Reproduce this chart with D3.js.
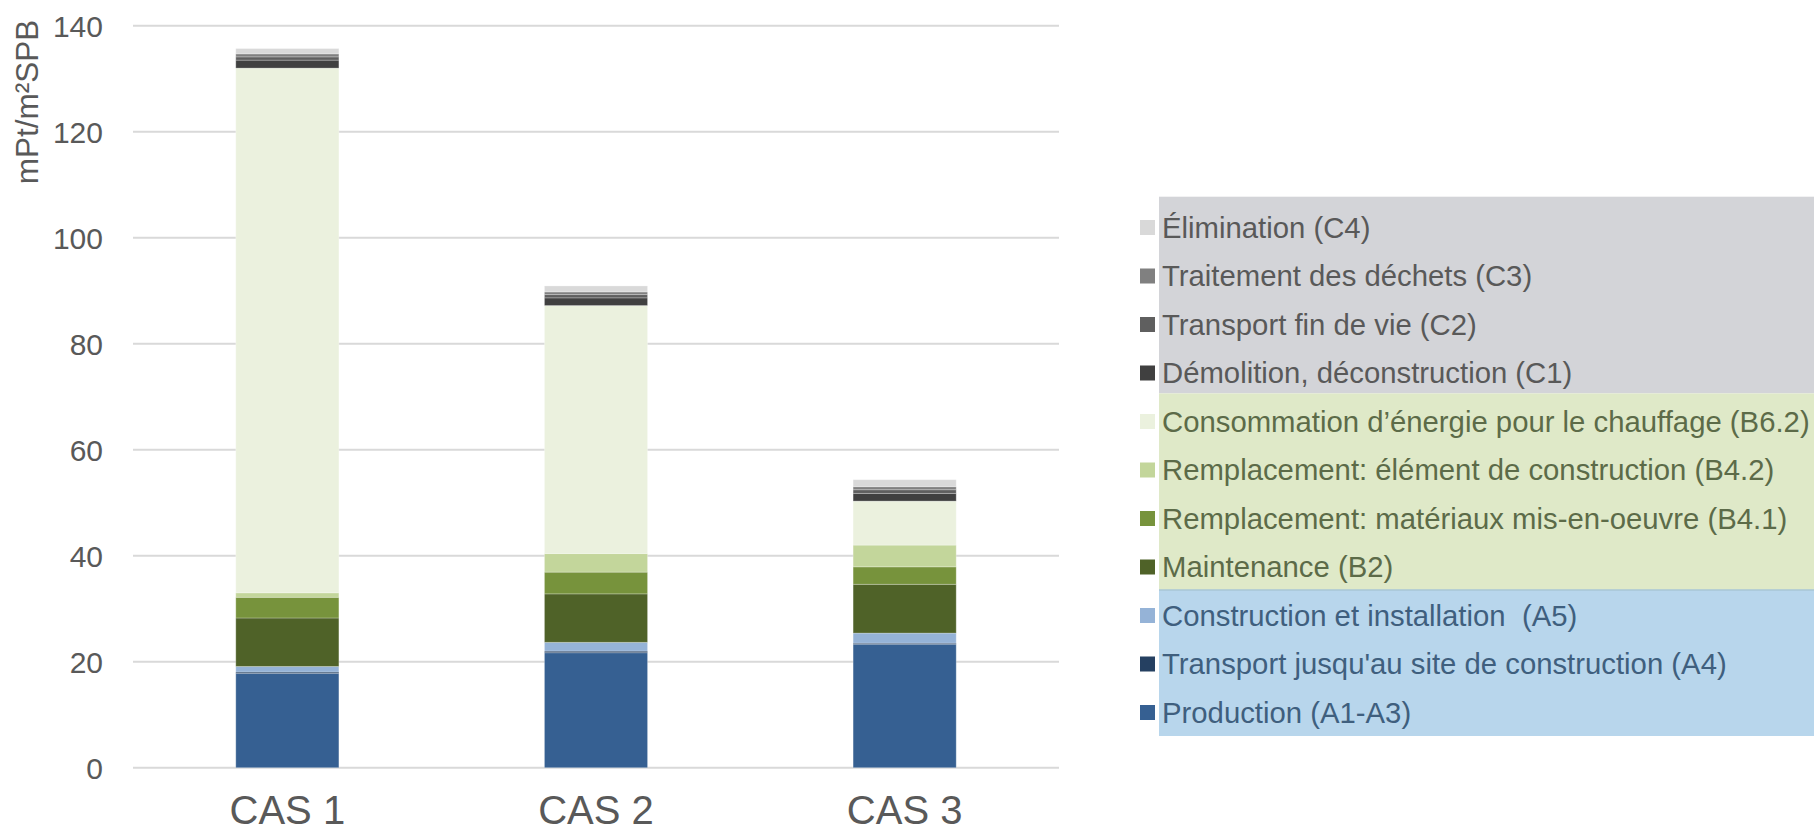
<!DOCTYPE html>
<html>
<head>
<meta charset="utf-8">
<script src="https://cdn.jsdelivr.net/npm/d3@7"></script>
<style>
html,body{margin:0;padding:0;background:#fff;}
svg{display:block;font-family:"Liberation Sans",Arial,sans-serif;}
text{white-space:pre;}
</style>
</head>
<body>
<svg id="chart" width="1814" height="834"></svg>
<script>
const categories = ["CAS 1", "CAS 2", "CAS 3"];
const seriesNames = [
  "Production (A1-A3)",
  "Transport jusqu'au site de construction (A4)",
  "Construction et installation  (A5)",
  "Maintenance (B2)",
  "Remplacement: matériaux mis-en-oeuvre (B4.1)",
  "Remplacement: élément de construction (B4.2)",
  "Consommation d’énergie pour le chauffage (B6.2)",
  "Démolition, déconstruction (C1)",
  "Transport fin de vie (C2)",
  "Traitement des déchets (C3)",
  "Élimination (C4)"
];
const seriesColors = ["#366092","#254061","#95b3d7","#4f6228","#77933c","#c3d69b","#ebf1de","#404040","#5f5f5f","#808080","#d9d9d9"];
// values per series: [CAS 1, CAS 2, CAS 3]
const A1A3 = [17.8, 21.7, 23.3];
const A4   = [0.25, 0.3, 0.2];
const A5   = [1.05, 1.65, 1.9];
const B2   = [9.15, 9.15, 9.2];
const B41  = [3.9, 4.1, 3.3];
const B42  = [0.85, 3.5, 4.1];
const B62  = [99.0, 46.8, 8.3];
const C1   = [1.5, 1.45, 1.45];
const C2   = [0.62, 0.62, 0.7];
const C3   = [0.57, 0.5, 0.57];
const C4   = [1.0, 1.13, 1.32];
const seriesValues = [A1A3, A4, A5, B2, B41, B42, B62, C1, C2, C3, C4];
const yTicks = [0, 20, 40, 60, 80, 100, 120, 140];
const yTitle = "mPt/m²SPB";

(function () {
// legend groups (top to bottom order)
const legendOrder = [10, 9, 8, 7, 6, 5, 4, 3, 2, 1, 0];
const groups = [
  {members:[10,9,8,7], bg:"#d3d4d8", text:"#595959"},
  {members:[6,5,4,3], bg:"#dfe9c8", text:"#5c6b48"},
  {members:[2,1,0], bg:"#b8d6ec", text:"#3f5f7e"}
];

const svg = d3.select("#chart");
const pLeft = 133, pRight = 1059, pTop = 25.7, pBottom = 767.7;

const x = d3.scaleBand().domain(categories).range([pLeft, pRight]).paddingInner(0.666).paddingOuter(0.333);
const y = d3.scaleLinear().domain([0, 140]).range([pBottom, pTop]);

// gridlines
svg.append("g").selectAll("line").data(yTicks).join("line")
  .attr("x1", pLeft).attr("x2", pRight)
  .attr("y1", d => y(d)).attr("y2", d => y(d))
  .attr("stroke", "#d9d9d9").attr("stroke-width", 2);

// y axis labels
const yAxis = d3.axisLeft(y).tickValues(yTicks).tickSize(0).tickPadding(0);
const gy = svg.append("g").attr("transform", `translate(103,0)`).call(yAxis);
gy.select(".domain").remove();
gy.selectAll("text").attr("font-size", 30).attr("fill", "#595959").attr("font-family", "Liberation Sans, Arial, sans-serif").attr("dy", "0.35em");

// y title
svg.append("text").attr("transform", `translate(38,${102}) rotate(-90)`)
  .attr("text-anchor", "middle").attr("font-size", 31.5).attr("fill", "#595959").text(yTitle);

// stacked data
const rows = categories.map((c, i) => {
  const o = {cat: c};
  seriesValues.forEach((s, k) => o["s" + k] = s[i]);
  return o;
});
const stack = d3.stack().keys(seriesValues.map((_, k) => "s" + k));
const stacked = stack(rows);

svg.append("g").selectAll("g").data(stacked).join("g")
  .attr("fill", (d, k) => seriesColors[k])
  .selectAll("rect").data(d => d).join("rect")
  .attr("x", d => x(d.data.cat))
  .attr("width", x.bandwidth())
  .attr("y", d => y(d[1]))
  .attr("height", d => y(d[0]) - y(d[1]))
  .attr("stroke", "rgba(255,255,255,0.25)").attr("stroke-width", 1);

// x axis labels
const xAxis = d3.axisBottom(x).tickSize(0).tickPadding(0);
const gx = svg.append("g").attr("transform", `translate(0,${pBottom})`).call(xAxis);
gx.select(".domain").remove();
gx.selectAll("text").attr("font-size", 40).attr("fill", "#595959").attr("font-family", "Liberation Sans, Arial, sans-serif")
  .attr("y", 0).attr("dy", null).attr("transform", "translate(0,56)");

// legend
const legLeft = 1159, legRight = 1814, legTop = 196.7, rowH = 48.5, row0 = 227.5;
const rowY = i => row0 + i * rowH;
const boundaries = [legTop, 393.4, 590, 736];
groups.forEach((g, gi) => {
  svg.append("rect").attr("x", legLeft).attr("y", boundaries[gi])
    .attr("width", legRight - legLeft).attr("height", boundaries[gi + 1] - boundaries[gi])
    .attr("fill", g.bg);
});
svg.append("line").attr("x1", legLeft).attr("x2", legRight).attr("y1", 590).attr("y2", 590)
  .attr("stroke", "#a8c6d6").attr("stroke-width", 1.5);

const legend = svg.append("g");
legendOrder.forEach((k, i) => {
  const g = groups.find(gr => gr.members.includes(k));
  legend.append("rect").attr("x", 1140).attr("y", rowY(i) - 7.5).attr("width", 15).attr("height", 15)
    .attr("fill", seriesColors[k]);
  legend.append("text").attr("x", 1162).attr("y", rowY(i)).attr("dy", "0.35em")
    .attr("font-size", 29.3).attr("fill", g.text).text(seriesNames[k]);
});
})();
</script>
</body>
</html>
